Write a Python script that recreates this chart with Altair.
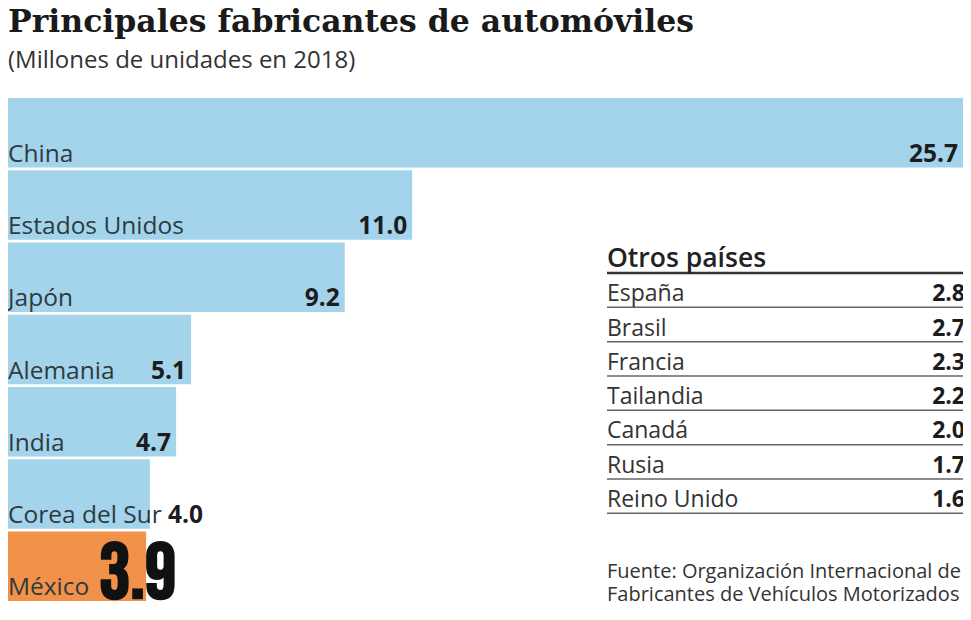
import altair as alt
import pandas as pd

TITLE = "Principales fabricantes de automóviles"
SUBTITLE = "(Millones de unidades en 2018)"
SOURCE = ["Fuente: Organización Internacional de", "Fabricantes de Vehículos Motorizados"]

countries = ["China", "Estados Unidos", "Japón", "Alemania", "India", "Corea del Sur", "México"]
values = [25.7, 11.0, 9.2, 5.1, 4.7, 4.0, 3.9]

other_header = "Otros países"
others = ["España", "Brasil", "Francia", "Tailandia", "Canadá", "Rusia", "Reino Unido"]
other_values = [2.8, 2.7, 2.3, 2.2, 2.0, 1.7, 1.6]

BLUE = "#a3d4ec"
ORANGE = "#f29149"
LABEL = "#2f3a40"
DARK = "#1c1c1c"
FONT = "Open Sans"
BIG = ("Bebas Neue, Oswald, League Gothic, Open Sans Condensed, "
       "Noto Sans Display ExtraCondensed, Noto Sans ExtraCondensed, "
       "Roboto Condensed, Noto Sans Condensed, Liberation Sans Narrow, Roboto")
W, H = 955, 503

main_df = pd.DataFrame({"country": countries, "value": values})
base = alt.Chart(main_df)
xs = alt.Scale(domain=[0, max(values)], range=[-8, W], nice=False, zero=True)
ys = alt.Scale(paddingInner=0.04, paddingOuter=0)
x = alt.X("value:Q", scale=xs, axis=None)
y = alt.Y("country:N", sort=countries, scale=ys, axis=None)

bars = base.mark_bar().encode(
    x=x, y=y,
    color=alt.condition(alt.datum.country == "México", alt.value(ORANGE), alt.value(BLUE)),
)
names = base.mark_text(align="left", baseline="alphabetic", dx=0, dy=29,
                       font=FONT, fontSize=24.5, color=LABEL).encode(
    x=alt.value(0), y=y, text="country:N")
vals = base.transform_filter(
    "datum.country != 'Corea del Sur' && datum.country != 'México'"
).mark_text(align="right", baseline="alphabetic", dx=-5, dy=29,
            font=FONT, fontSize=24.5, fontWeight="bold", color=DARK).encode(
    x=x, y=y, text=alt.Text("value:Q", format=".1f"))
corea = base.transform_filter("datum.country == 'Corea del Sur'").mark_text(
    align="left", baseline="alphabetic", dx=18, dy=29,
    font=FONT, fontSize=24.5, fontWeight="bold", color=DARK).encode(
    x=x, y=y, text=alt.Text("value:Q", format=".1f"))
mex = base.transform_filter("datum.country == 'México'").mark_text(
    align="left", baseline="alphabetic", dx=-47, dy=32,
    font=BIG, fontSize=78, fontWeight="bold", color="#111111").encode(
    x=x, y=y, text=alt.Text("value:Q", format=".1f"))

title_c = alt.Chart(pd.DataFrame({"t": [TITLE]})).mark_text(
    align="left", baseline="alphabetic", font="DejaVu Serif", fontWeight="bold",
    fontSize=31.5, color="#1a1a1a").encode(x=alt.value(0), y=alt.value(-66), text="t:N")
sub_c = alt.Chart(pd.DataFrame({"t": [SUBTITLE]})).mark_text(
    align="left", baseline="alphabetic", font=FONT, fontSize=24,
    color="#333333").encode(x=alt.value(0), y=alt.value(-30), text="t:N")
src_c = alt.Chart(pd.DataFrame({"t": ["\n".join(SOURCE)]})).mark_text(
    align="left", baseline="alphabetic", font=FONT, fontSize=20, lineHeight=23,
    lineBreak="\n", color="#333333").encode(x=alt.value(599), y=alt.value(480), text="t:N")

main = alt.layer(bars, names, vals, corea, mex, title_c, sub_c, src_c)

# table of other countries
tbl_rows = [other_header] + others
ts = alt.Scale(domain=tbl_rows, range=[140.7, 415.3], paddingInner=0, paddingOuter=0)
head_df = pd.DataFrame({"row": [other_header]})
rows_df = pd.DataFrame({"row": others, "value": other_values})

ty = alt.Y("row:N", scale=ts, axis=None)
ty_end = alt.Y("row:N", scale=ts, axis=None, bandPosition=1)

TX0, TX1 = 599, W
head_rule = alt.Chart(head_df).mark_rule(strokeWidth=2.5, color="#333333").encode(
    y=ty_end, x=alt.value(TX0), x2=alt.value(TX1))
row_rules = alt.Chart(rows_df).mark_rule(strokeWidth=1.5, color="#666666").encode(
    y=ty_end, x=alt.value(TX0), x2=alt.value(TX1))
head_txt = alt.Chart(head_df).mark_text(align="left", baseline="alphabetic", dy=11,
                                        font=FONT, fontSize=26.5, fontWeight=600,
                                        color="#222222").encode(
    y=ty, x=alt.value(TX0), text="row:N")
row_txt = alt.Chart(rows_df).mark_text(align="left", baseline="alphabetic", dy=11,
                                       font=FONT, fontSize=23, color="#333333").encode(
    y=ty, x=alt.value(TX0), text="row:N")
row_val = alt.Chart(rows_df).mark_text(align="right", baseline="alphabetic", dy=11,
                                       font=FONT, fontSize=23, fontWeight="bold",
                                       color=DARK).encode(
    y=ty, x=alt.value(TX1 + 2), text=alt.Text("value:Q", format=".1f"))

table = alt.layer(head_rule, row_rules, head_txt, row_txt, row_val)

chart = alt.layer(main, table).resolve_scale(y="independent").properties(
    width=W, height=H,
    autosize=alt.AutoSizeParams(type="none"),
    padding={"left": 0, "top": 90, "right": 0, "bottom": 3},
    background="white",
).configure_view(stroke=None)

chart.save("out.html", embed_options={"renderer": "svg", "actions": False})
